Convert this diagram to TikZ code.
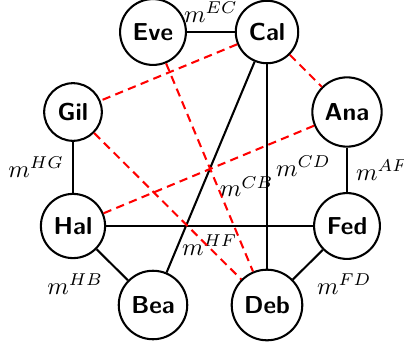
\documentclass[tikz,border=0pt]{standalone}
\begin{document}
\begin{tikzpicture}[x=0.408pt, y=-0.408pt,
  person/.style={circle, draw=black, line width=0.84pt, font=\sffamily\bfseries, inner sep=3.33pt},
  link/.style={draw=black, line width=0.84pt},
  rlink/.style={draw=red, line width=0.84pt, dash pattern=on 3.4pt off 2.2pt}]
\useasboundingbox (0,0) rectangle (404,347);
\node[person] (eve) at (153,32) {Eve};
\node[person] (cal) at (267,32) {Cal};
\node[person] (gil) at (73,112) {Gil};
\node[person] (ana) at (347,112) {Ana};
\node[person] (hal) at (73,226) {Hal};
\node[person] (fed) at (347,226) {Fed};
\node[person] (bea) at (153,305) {Bea};
\node[person] (deb) at (267,305) {Deb};
% solid edges
\draw[link] (eve) -- node[above] {$m^{EC}$} (cal);
\draw[link] (gil) -- node[left] {$m^{HG}$} (hal);
\draw[link] (ana) -- node[right] {$m^{AF}$} (fed);
\draw[link] (cal) -- node[right] {$m^{CD}$} (deb);
\draw[link] (cal) -- node[below right] {$m^{CB}$} (bea);
\draw[link] (hal) -- node[below] {$m^{HF}$} (fed);
\draw[link] (hal) -- node[below left] {$m^{HB}$} (bea);
\draw[link] (fed) -- node[below right] {$m^{FD}$} (deb);
% dashed red edges
\draw[rlink] (cal) -- (gil);
\draw[rlink] (cal) -- (ana);
\draw[rlink] (eve) -- (deb);
\draw[rlink] (gil) -- (deb);
\draw[rlink] (hal) -- (ana);
\end{tikzpicture}
\end{document}
